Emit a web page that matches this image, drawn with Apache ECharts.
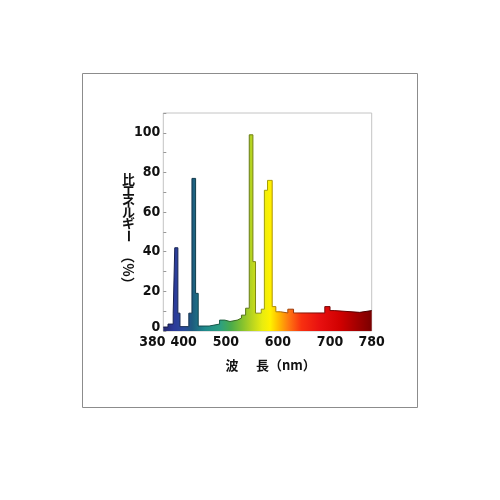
<!DOCTYPE html>
<html>
<head>
<meta charset="utf-8">
<script src="https://cdn.jsdelivr.net/npm/echarts@6/dist/echarts.min.js"></script>
<style>
  html, body { margin: 0; padding: 0; background: #fff; }
  #chart { width: 500px; height: 500px; }
</style>
</head>
<body>
<div id="chart"></div>
<script>
// wavelength where each step starts (nm) and its relative energy (%)
var wavelengths = [380, 389, 399, 402, 408, 412, 429, 435, 442, 447, 468, 488, 498, 508, 522, 530, 538,
                   545, 552, 557, 568, 574, 580, 589, 596, 605, 619, 630, 690, 700, 708, 757, 780];
var energies    = [2, 3.5, 9, 42, 9, 2.2, 9, 77, 19, 2.5, 3.5, 5.5, 4.8, 5.5, 6.5, 8, 11.5,
                   99, 35, 9, 11, 71, 76, 12.3, 9.7, 9.1, 11, 9.1, 12.3, 10.3, 9.4, 10.3, 10.3];

var xTickLabels = [380, 400, 500, 600, 700, 780];
var yTickLabels = [0, 20, 40, 60, 80, 100];

// spectrum colours along the x range
var stopNm   = [380, 400, 420, 435, 460, 490, 510, 530, 550, 570, 585, 600, 620, 645, 680, 720, 780];
var fillCols = ['#262a6e', '#2c3a9a', '#2a4a9a', '#1d5a7e', '#1f8a8c', '#2ea080', '#4aab4a', '#80c030',
                '#b8d420', '#e8ec10', '#fff200', '#ffc000', '#ff7a10', '#f83010', '#e81010', '#d00000', '#7a0000'];
var lineCols = ['#14163a', '#182050', '#182a55', '#10324a', '#124c4e', '#1a5a48', '#2a6228', '#4a6e1a',
                '#6e7e14', '#9a9a0a', '#b0a400', '#a87000', '#a04208', '#8a1808', '#7a0808', '#6a0000', '#3a0000'];

function gradient(cols) {
    var stops = stopNm.map(function (nm, i) {
        return { offset: (nm - 380) / 400, color: cols[i] };
    });
    return new echarts.graphic.LinearGradient(0, 0, 1, 0, stops);
}

// each value holds from its wavelength to the next one
var data = [];
wavelengths.forEach(function (w, i) {
    data.push([w, energies[i]]);
    if (i < wavelengths.length - 1) data.push([wavelengths[i + 1], energies[i]]);
});

var jpFont = '"Noto Sans CJK JP", sans-serif';
var numFont = '"Liberation Sans Narrow", "DejaVu Sans Condensed", "Arial Narrow", sans-serif';

var yTitleChars = ['比', 'エ', 'ネ', 'ル', 'ギ'];
var yTitleY = [179, 190, 201, 212, 223];

var graphics = [{
    type: 'rect',
    shape: { x: 82.5, y: 73.5, width: 335, height: 334 },
    style: { fill: null, stroke: '#8c8c8c', lineWidth: 1 },
    silent: true
}];
yTitleChars.forEach(function (c, i) {
    graphics.push({
        type: 'text', x: 128.5, y: yTitleY[i],
        style: { text: c, font: 'bold 13px ' + jpFont, fill: '#111', align: 'center', verticalAlign: 'middle' }
    });
});
graphics.push({
    type: 'text', x: 128.5, y: 236, rotation: -Math.PI / 2,
    style: { text: 'ー', font: 'bold 13px ' + jpFont, fill: '#111', align: 'center', verticalAlign: 'middle' }
});
graphics.push({
    type: 'text', x: 128.5, y: 270, rotation: -Math.PI / 2,
    style: { text: '（%）', font: 'bold 14px ' + jpFont, fill: '#111', align: 'center', verticalAlign: 'middle' }
});
graphics.push({
    type: 'text', x: 232, y: 365,
    style: { text: '波', font: 'bold 13px ' + jpFont, fill: '#111', align: 'center', verticalAlign: 'middle' }
});
graphics.push({
    type: 'text', x: 256, y: 365,
    style: { text: '長（nm）', font: 'bold 13px ' + jpFont, fill: '#111', align: 'left', verticalAlign: 'middle' }
});

var chart = echarts.init(document.getElementById('chart'));

var labelStyle = { fontFamily: numFont, fontSize: 14, fontWeight: 'bold', color: '#111' };

// two overlaid bottom axes so the crowded 380 / 400 labels can both show
function xAxisFor(showFirst) {
    return {
        type: 'value', min: 380, max: 780, interval: 20, gridIndex: 0,
        position: 'bottom', offset: 0,
        axisLine: { show: false },
        axisTick: { show: false },
        splitLine: { show: false },
        axisLabel: Object.assign({
            margin: 4,
            showMinLabel: showFirst, showMaxLabel: !showFirst,
            formatter: function (v) {
                if (xTickLabels.indexOf(v) < 0) return '';
                if (v === 380) return showFirst ? '{l|380}' : '';
                if (showFirst) return '';
                if (v === 400) return '{r|400}';
                return String(v);
            },
            rich: {
                l: Object.assign({ padding: [0, 22, 0, 0] }, labelStyle),
                r: Object.assign({ padding: [0, 0, 0, 20] }, labelStyle)
            }
        }, labelStyle)
    };
}

chart.setOption({
    animation: false,
    backgroundColor: '#fff',
    grid: {
        left: 163.3, top: 113, right: 128.3, bottom: 169,
        show: true, borderColor: '#c4c4c4', borderWidth: 1, backgroundColor: '#fff'
    },
    xAxis: [xAxisFor(false), xAxisFor(true)],
    yAxis: {
        type: 'value', min: 0, max: 110, interval: 10,
        axisLine: { show: false },
        axisTick: { show: true, inside: true, length: 3, lineStyle: { color: '#999' } },
        splitLine: { show: false },
        axisLabel: Object.assign({
            margin: 3,
            formatter: function (v) {
                if (yTickLabels.indexOf(v) < 0) return '';
                if (v === 0) return '{z|0}';
                return String(v);
            },
            rich: {
                z: Object.assign({ padding: [0, 0, 8, 0] }, labelStyle)
            }
        }, labelStyle)
    },
    series: [{
        type: 'line',
        xAxisIndex: 0,
        data: data,
        symbol: 'none',
        lineStyle: { width: 1, color: gradient(lineCols) },
        areaStyle: { color: gradient(fillCols), opacity: 1 },
        z: 3
    }],
    graphic: graphics
});
</script>
</body>
</html>
